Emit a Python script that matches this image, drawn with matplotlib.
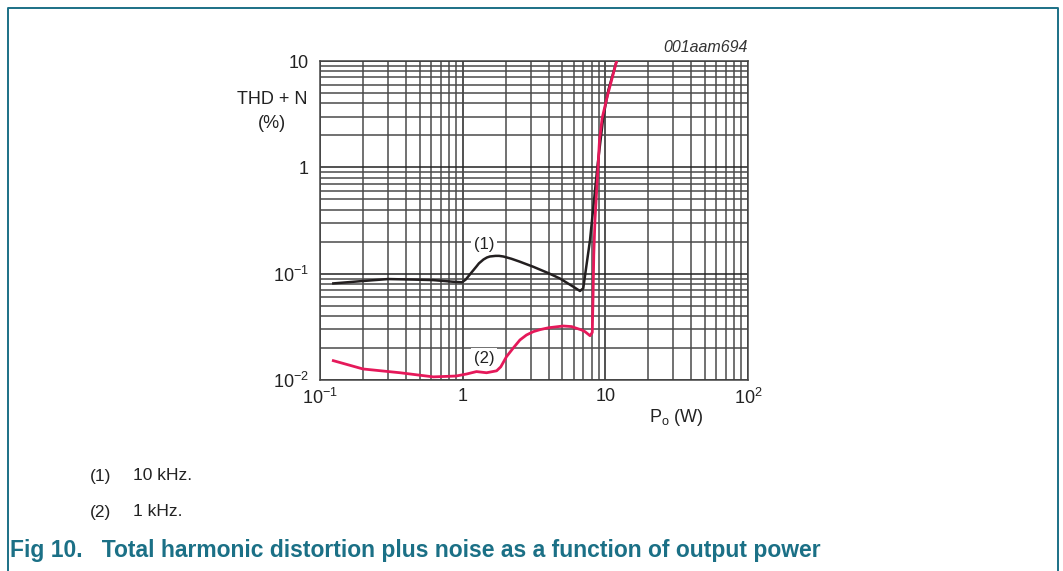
import matplotlib
matplotlib.use("Agg")
import matplotlib.pyplot as plt
from matplotlib.lines import Line2D

plt.rcParams['font.family'] = ['Liberation Sans', 'DejaVu Sans']
plt.rcParams['mathtext.fontset'] = 'custom'
plt.rcParams['mathtext.rm'] = 'Liberation Sans'
plt.rcParams['mathtext.it'] = 'Liberation Sans:italic'
plt.rcParams['mathtext.bf'] = 'Liberation Sans:bold'

# curve (1): 10 kHz, curve (2): 1 kHz  -- THD+N (%) vs Po (W)
po_10k = [0.124, 0.2, 0.3, 0.45, 0.62, 0.85, 0.99, 1.05, 1.1, 1.19, 1.25, 1.3, 1.4, 1.48,
          1.55, 1.7, 1.8, 1.93, 2.2, 2.5, 3.13, 4.0, 4.81, 6.0, 6.64, 7.0, 7.81, 8.79,
          9.68, 10.5, 12.0]
thd_10k = [0.081, 0.0853, 0.089, 0.088, 0.087, 0.084, 0.083, 0.088, 0.095, 0.108, 0.117,
           0.125, 0.136, 0.142, 0.145, 0.147, 0.147, 0.145, 0.138, 0.13, 0.116, 0.101,
           0.090, 0.075, 0.0687, 0.0728, 0.207, 1.0, 2.99, 5.33, 10.0]

po_1k = [0.124, 0.2, 0.364, 0.622, 0.9, 1.07, 1.25, 1.47, 1.73, 1.85, 2.03, 2.25, 2.52,
         2.8, 3.13, 3.5, 4.0, 5.07, 5.8, 6.3, 6.8, 7.2, 7.81, 8.1, 8.2, 8.3, 8.46, 8.8,
         9.1, 9.5, 10.3, 12.0]
thd_1k = [0.0152, 0.0127, 0.0117, 0.0107, 0.0109, 0.0114, 0.0120, 0.0117, 0.0122, 0.0133,
          0.0166, 0.0198, 0.0238, 0.0265, 0.0285, 0.0298, 0.0310, 0.0322, 0.0318, 0.0306,
          0.0296, 0.0285, 0.0261, 0.028, 0.06, 0.15, 0.32, 0.8, 1.8, 2.9, 4.6, 10.0]

x_ticks = [0.1, 1, 10, 100]
x_labels = [r'$\mathregular{10^{-1}}$', '1', '10', r'$\mathregular{10^2}$']
y_ticks = [0.01, 0.1, 1, 10]
y_labels = [r'$\mathregular{10^{-2}}$', r'$\mathregular{10^{-1}}$', '1', '10']
note_ids = ['(1)', '(2)']
note_txt = ['10 kHz.', '1 kHz.']

teal = '#1b7086'
ink = '#222222'
W, H = 1063, 571

fig = plt.figure(figsize=(W / 100, H / 100), dpi=100)
ax = fig.add_axes([320 / W, 1 - 380 / H, 428 / W, 319 / H])
ax.set_xscale('log')
ax.set_yscale('log')
ax.set_xlim(0.1, 100)
ax.set_ylim(0.01, 10)

ax.grid(True, which='major', color='#222222', lw=1.1)
ax.grid(True, which='minor', color='#4a4a4a', lw=1.1)
ax.set_axisbelow(True)
for s in ax.spines.values():
    s.set_color('#444444')
    s.set_linewidth(1.1)

ax.set_xticks(x_ticks)
ax.set_xticklabels(x_labels)
ax.set_yticks(y_ticks)
ax.set_yticklabels(y_labels)
ax.tick_params(which='both', length=0, labelsize=13, labelcolor=ink)
ax.tick_params(axis='x', pad=6)
ax.tick_params(axis='y', pad=8)

ax.plot(po_10k, thd_10k, color='#231f20', lw=1.8, solid_joinstyle='round', zorder=3)
ax.plot(po_1k, thd_1k, color='#e5195a', lw=2.0, solid_joinstyle='round', zorder=4)

bbox = dict(facecolor='white', edgecolor='none', pad=2.0)
ax.text(1.41, 0.19, '(1)', fontsize=12, ha='center', va='center', color=ink,
        bbox=bbox, zorder=2.5)
ax.text(1.41, 0.0161, '(2)', fontsize=12, ha='center', va='center', color=ink,
        bbox=bbox, zorder=2.5)

# axis titles
fig.text(272 / W, 1 - 100 / H, 'THD + N', fontsize=13, ha='center', va='center', color=ink)
fig.text(272 / W, 1 - 124 / H, '(%)', fontsize=13, ha='center', va='center', color=ink)
fig.text(676 / W, 1 - 418 / H, r'P$_\mathregular{o}$ (W)', fontsize=13, ha='center',
         va='center', color=ink)
fig.text(748 / W, 1 - 47 / H, '001aam694', fontsize=11.5, style='italic', ha='right',
         va='center', color='#333333')

# notes and caption
for i in range(len(note_ids)):
    y = 1 - (476 + 36 * i) / H
    fig.text(90 / W, y, note_ids[i], fontsize=12.5, ha='left', va='center', color=ink)
    fig.text(133 / W, y, note_txt[i], fontsize=12.5, ha='left', va='center', color=ink)
fig.text(10 / W, 1 - 551 / H, 'Fig 10.   Total harmonic distortion plus noise as a function of output power',
         fontsize=16.5, fontweight='bold', ha='left', va='center', color=teal)

# page frame (left, top, right)
fig.add_artist(Line2D([7.5 / W, 7.5 / W, 1057.5 / W, 1057.5 / W],
                      [0, 1 - 7.5 / H, 1 - 7.5 / H, 0], color=teal, lw=1.4))

fig.savefig('out.png', dpi=100)
